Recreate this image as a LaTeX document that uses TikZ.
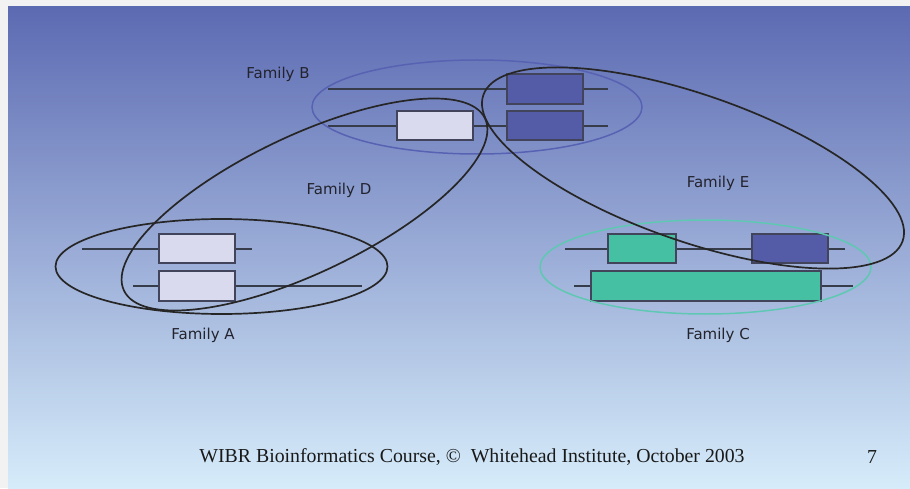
\documentclass[tikz,border=0pt]{standalone}
\usepackage{fontspec}
\setmainfont{Liberation Serif}
\newfontfamily\famfont{DejaVu Sans}
\definecolor{margincol}{RGB}{242,242,242}
\definecolor{bgtop}{RGB}{92,106,178}
\definecolor{bgbot}{RGB}{214,236,250}
\definecolor{lightfill}{RGB}{218,218,238}
\definecolor{darkfill}{RGB}{84,92,168}
\definecolor{tealfill}{RGB}{70,192,162}
\definecolor{boxedge}{RGB}{65,68,90}
\definecolor{genecol}{RGB}{55,60,75}
\definecolor{bring}{RGB}{88,98,178}
\definecolor{cring}{RGB}{95,200,178}
\definecolor{txtcol}{RGB}{35,35,45}
\begin{document}
\begin{tikzpicture}[x=1pt,y=1pt,
  gene/.style={draw=genecol, line width=1.2pt},
  genebox/.style={draw=boxedge, line width=1.2pt, inner sep=0pt, outer sep=0pt},
  lightbox/.style={genebox, fill=lightfill},
  darkbox/.style={genebox, fill=darkfill},
  tealbox/.style={genebox, fill=tealfill},
  famring/.style={draw=black!85, line width=1.7pt},
  famlabel/.style={font=\famfont\fontsize{15}{18}\selectfont, text=txtcol, inner sep=0pt},
  foot/.style={font=\fontsize{19.8}{23}\selectfont, text=black!90, inner sep=0pt}]
\useasboundingbox (0,0) rectangle (910,488);
\fill[margincol] (0,0) rectangle (910,488);
\shade[top color=bgtop, bottom color=bgbot] (8,0) rectangle (910,481);

% gene lines
\coordinate (bt1) at (328,399); \coordinate (bt2) at (608,399);
\coordinate (bb1) at (328,362); \coordinate (bb2) at (608,362);
\coordinate (at1) at (82,239);  \coordinate (at2) at (252,239);
\coordinate (ab1) at (133,202); \coordinate (ab2) at (362,202);
\coordinate (ct1) at (565,239); \coordinate (ct2) at (845,239);
\coordinate (cb1) at (574,202); \coordinate (cb2) at (853,202);
\draw[gene] (bt1) -- (bt2);
\draw[gene] (bb1) -- (bb2);
\draw[gene] (at1) -- (at2);
\draw[gene] (ab1) -- (ab2);
\draw[gene] (ct1) -- (ct2);
\draw[gene] (cb1) -- (cb2);

% boxes
\node[darkbox, minimum width=76pt, minimum height=30pt] (b1) at (545,399) {};
\node[lightbox, minimum width=76pt, minimum height=29pt] (b2) at (435,362.5) {};
\node[darkbox, minimum width=76pt, minimum height=29pt] (b3) at (545,362.5) {};
\node[lightbox, minimum width=76pt, minimum height=29pt] (a1) at (197,239.5) {};
\node[lightbox, minimum width=76pt, minimum height=30pt] (a2) at (197,202) {};
\node[tealbox, minimum width=68pt, minimum height=29pt] (c1) at (642,239.5) {};
\node[darkbox, minimum width=76pt, minimum height=29pt] (c2) at (790,239.5) {};
\node[tealbox, minimum width=230pt, minimum height=30pt] (c3) at (706,202) {};

% family rings
\draw[draw=bring, line width=1.5pt] (477,381) ellipse [x radius=165, y radius=47];
\draw[draw=cring, line width=1.5pt] (705.5,221) ellipse [x radius=165.5, y radius=47];
\draw[famring] (221.5,221.5) ellipse [x radius=166, y radius=47.5];
\draw[famring, rotate around={25.5:(304.5,283.5)}] (304.5,283.5) ellipse [x radius=200, y radius=68.5];
\draw[famring, rotate around={-19.2:(693,320)}] (693,320) ellipse [x radius=222, y radius=73.3];

% labels
\node[famlabel] (lb) at (278,414) {Family B};
\node[famlabel] (ld) at (339,298) {Family D};
\node[famlabel] (le) at (718,305) {Family E};
\node[famlabel] (la) at (203,153) {Family A};
\node[famlabel] (lc) at (718,153) {Family C};

\node[foot] (ft) at (472,31) {WIBR Bioinformatics Course, \textcopyright\ \ Whitehead Institute, October 2003};
\node[foot] (pg) at (872,31) {7};
\end{tikzpicture}
\end{document}
